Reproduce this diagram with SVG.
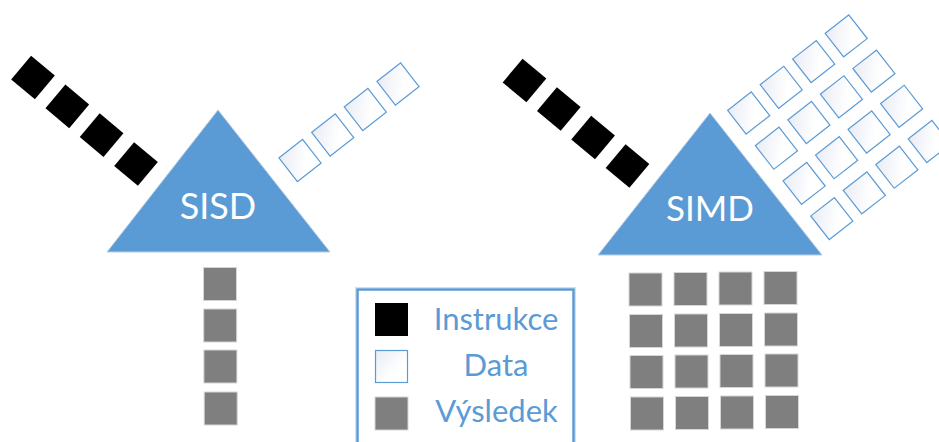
<svg xmlns="http://www.w3.org/2000/svg" xmlns:xlink="http://www.w3.org/1999/xlink" width="939" height="442" viewBox="0 0 939 442">
<style>
.tri{fill:#5b9bd5;stroke:#b8cde3;stroke-width:1}
.tl{font-family:Lato,"Open Sans",sans-serif;fill:#ffffff;text-anchor:middle}
.lg{font-family:Lato,"Open Sans",sans-serif;fill:#5b9bd5;font-size:31px;text-anchor:middle}
.blk{fill:#000000}
.dat{fill:url(#dg);stroke:#5b9bd5;stroke-width:1.2}
.res{fill:#7f7f7f;stroke:#d6d6d6;stroke-width:1}
</style>
<defs>
<linearGradient id="dg" x1="0" y1="0" x2="1" y2="1">
<stop offset="0" stop-color="#e9ecf4"/>
<stop offset="0.65" stop-color="#ffffff"/>
</linearGradient>
<rect id="bs" x="-15.5" y="-15.5" width="31" height="31" class="blk"/>
<rect id="ds" x="-15" y="-15" width="30" height="30" class="dat"/>
</defs>
<rect width="939" height="442" fill="#ffffff"/>

<g id="sisd">
<polygon class="tri" points="218,110 107,252 330,252"/>
<text class="tl" x="218" y="219" font-size="36">SISD</text>
</g>
<g id="sisd-instr">
<use xlink:href="#bs" transform="translate(33,77.5) rotate(40)"/>
<use xlink:href="#bs" transform="translate(67.3,106.3) rotate(40)"/>
<use xlink:href="#bs" transform="translate(101.6,135.1) rotate(40)"/>
<use xlink:href="#bs" transform="translate(136,164) rotate(40)"/>
</g>
<g id="sisd-data">
<use xlink:href="#ds" transform="translate(300,160.5) rotate(-38)"/>
<use xlink:href="#ds" transform="translate(332.7,135) rotate(-38)"/>
<use xlink:href="#ds" transform="translate(365.3,109.5) rotate(-38)"/>
<use xlink:href="#ds" transform="translate(398,84) rotate(-38)"/>
</g>
<g id="sisd-result">
<rect class="res" x="203.5" y="267.5" width="33" height="33"/>
<rect class="res" x="203.7" y="309" width="33" height="33"/>
<rect class="res" x="203.9" y="350" width="33" height="33"/>
<rect class="res" x="204.2" y="392" width="33" height="33"/>
</g>

<g id="simd">
<polygon class="tri" points="710,113 598,255 822,255"/>
<text class="tl" x="710" y="221" font-size="35">SIMD</text>
</g>
<g id="simd-instr">
<use xlink:href="#bs" transform="translate(524.5,80.5) rotate(40)"/>
<use xlink:href="#bs" transform="translate(558.8,109) rotate(40)"/>
<use xlink:href="#bs" transform="translate(593.1,137.5) rotate(40)"/>
<use xlink:href="#bs" transform="translate(627.5,166) rotate(40)"/>
</g>
<g id="simd-data">
<use xlink:href="#ds" transform="translate(748.7,113) rotate(-38)"/>
<use xlink:href="#ds" transform="translate(781.2,87.3) rotate(-38)"/>
<use xlink:href="#ds" transform="translate(813.7,61.6) rotate(-38)"/>
<use xlink:href="#ds" transform="translate(846.2,35.9) rotate(-38)"/>
<use xlink:href="#ds" transform="translate(776.4,148.2) rotate(-38)"/>
<use xlink:href="#ds" transform="translate(808.9,122.5) rotate(-38)"/>
<use xlink:href="#ds" transform="translate(841.4,96.8) rotate(-38)"/>
<use xlink:href="#ds" transform="translate(873.9,71.1) rotate(-38)"/>
<use xlink:href="#ds" transform="translate(804.1,183.4) rotate(-38)"/>
<use xlink:href="#ds" transform="translate(836.6,157.7) rotate(-38)"/>
<use xlink:href="#ds" transform="translate(869.1,132) rotate(-38)"/>
<use xlink:href="#ds" transform="translate(901.6,106.3) rotate(-38)"/>
<use xlink:href="#ds" transform="translate(831.8,218.6) rotate(-38)"/>
<use xlink:href="#ds" transform="translate(864.3,192.9) rotate(-38)"/>
<use xlink:href="#ds" transform="translate(896.8,167.2) rotate(-38)"/>
<use xlink:href="#ds" transform="translate(929.3,141.5) rotate(-38)"/>
</g>
<g id="simd-result">
<rect class="res" x="629" y="273" width="33" height="33"/>
<rect class="res" x="674" y="272.5" width="33" height="33"/>
<rect class="res" x="719" y="272" width="33" height="33"/>
<rect class="res" x="764" y="271.5" width="33" height="33"/>
<rect class="res" x="629.5" y="314.5" width="33" height="33"/>
<rect class="res" x="674.5" y="314" width="33" height="33"/>
<rect class="res" x="719.5" y="313.5" width="33" height="33"/>
<rect class="res" x="764.5" y="313" width="33" height="33"/>
<rect class="res" x="630" y="355.5" width="33" height="33"/>
<rect class="res" x="675" y="355" width="33" height="33"/>
<rect class="res" x="720" y="354.5" width="33" height="33"/>
<rect class="res" x="765" y="354" width="33" height="33"/>
<rect class="res" x="630.5" y="397" width="33" height="33"/>
<rect class="res" x="675.5" y="396.5" width="33" height="33"/>
<rect class="res" x="720.5" y="396" width="33" height="33"/>
<rect class="res" x="765.5" y="395.5" width="33" height="33"/>
</g>

<g id="legend">
<rect x="355.5" y="287.5" width="220" height="175" fill="none" stroke="#d8dde5" stroke-width="1"/>
<rect x="357.5" y="289.5" width="216" height="171" fill="#ffffff" stroke="#5b9bd5" stroke-width="2.5"/>
<rect x="375" y="303" width="33" height="33" class="blk"/>
<rect x="375.5" y="350.5" width="32" height="32" class="dat"/>
<rect x="375" y="397" width="33" height="33" class="res"/>
<text class="lg" x="496" y="330">Instrukce</text>
<text class="lg" x="496" y="376">Data</text>
<text class="lg" x="496.5" y="422">Výsledek</text>
</g>
</svg>
